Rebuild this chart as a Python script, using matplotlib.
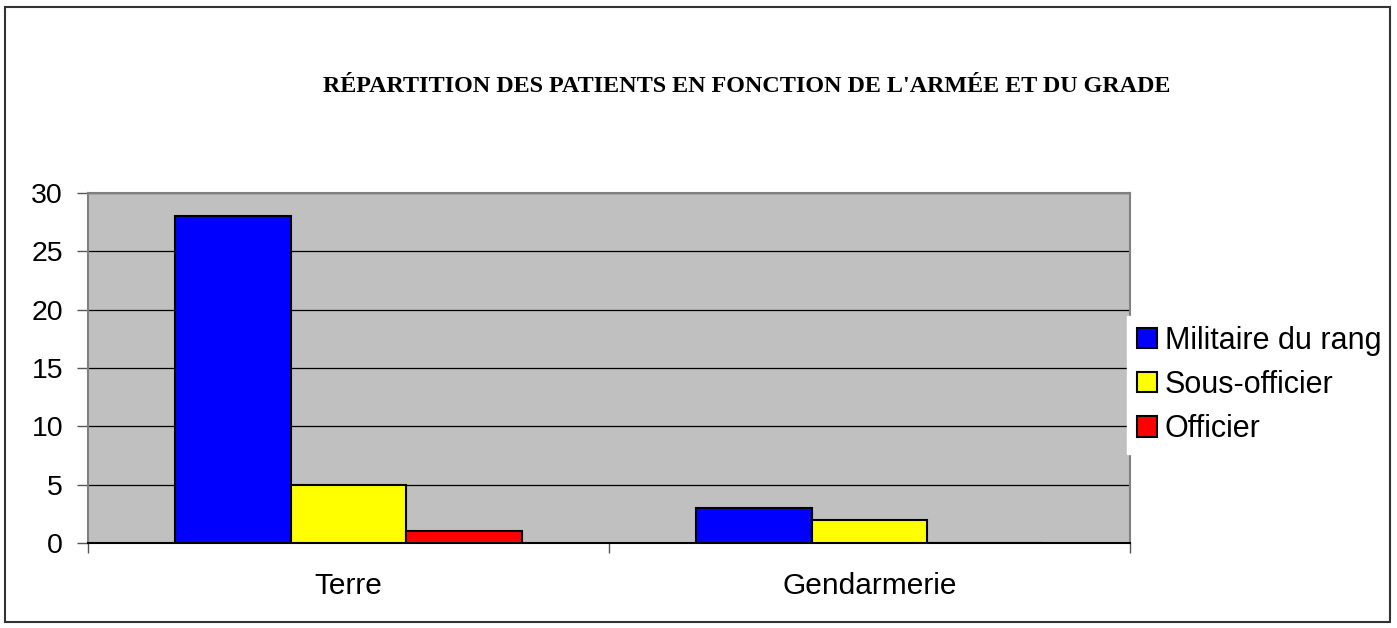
import matplotlib
matplotlib.use("Agg")
import matplotlib.pyplot as plt
from matplotlib.patches import Rectangle
import matplotlib.transforms as mtransforms
import numpy as np

categories = ["Terre", "Gendarmerie"]
series_names = ["Militaire du rang", "Sous-officier", "Officier"]
militaire = [28, 3]
sous_officier = [5, 2]
officier = [1, 0]
colors = ["#0000FF", "#FFFF00", "#FF0000"]
title = "RÉPARTITION DES PATIENTS EN FONCTION DE L'ARMÉE ET DU GRADE"
yticks = [0, 5, 10, 15, 20, 25, 30]

W, H = 1397, 628
fig = plt.figure(figsize=(W / 100, H / 100), dpi=100)
fig.patch.set_facecolor("white")

ax = fig.add_axes([88 / W, 1 - 543 / H, (1130 - 88) / W, (543 - 193) / H])
ax.set_facecolor("#C0C0C0")

x = np.arange(len(categories))
bw = 0.222
data = [militaire, sous_officier, officier]
for i, (vals, c, name) in enumerate(zip(data, colors, series_names)):
    ax.bar(x + (i - 1) * bw, vals, width=bw, color=c, edgecolor="black",
           linewidth=1.5, label=name, zorder=3)

ax.set_xlim(-0.5, 1.5)
ax.set_ylim(0, 30)
ax.set_yticks(yticks)
ax.set_yticklabels([str(v) for v in yticks], fontsize=20.5, family="Liberation Sans")
ax.yaxis.grid(True, color="black", linewidth=0.9, zorder=1)
ax.set_axisbelow(True)

# category ticks at boundaries
ax.set_xticks([-0.5, 0.5, 1.5])
ax.set_xticklabels([])
ax.tick_params(axis="x", length=7, width=1, color="#555555", direction="out")
ax.tick_params(axis="y", length=8, width=1, color="#555555", direction="out", pad=10)
label_trans = mtransforms.blended_transform_factory(ax.transData, fig.transFigure)
for xi, lab in zip(x, categories):
    ax.text(xi, 1 - 586 / H, lab, transform=label_trans,
            ha="center", va="center", fontsize=21.5, family="Liberation Sans")

for s in ["top", "left", "right"]:
    ax.spines[s].set_color("#808080")
    ax.spines[s].set_linewidth(1.5)
ax.spines["bottom"].set_color("black")
ax.spines["bottom"].set_linewidth(1.5)

fig.text(747 / W, 1 - 86 / H, title, ha="center", va="center",
         fontsize=17.4, fontweight="bold", family="Liberation Serif")

leg = fig.legend(loc="center left", bbox_to_anchor=(1127 / W, 1 - 385 / H),
                 frameon=True, fancybox=False, prop={"family": "Liberation Sans", "size": 22},
                 handlelength=0.65, handleheight=0.65, handletextpad=0.26,
                 labelspacing=0.46, borderpad=0.33, borderaxespad=0)
leg.get_frame().set_edgecolor("white")
leg.get_frame().set_facecolor("white")
leg.get_frame().set_alpha(1)

# outer border drawn on top of everything
fig.add_artist(Rectangle((5 / W, 6 / H), (1390 - 5) / W, (622 - 7) / H,
                         transform=fig.transFigure, fill=False,
                         edgecolor="#333333", linewidth=1.5, zorder=20))

fig.savefig("out.png", dpi=100)
